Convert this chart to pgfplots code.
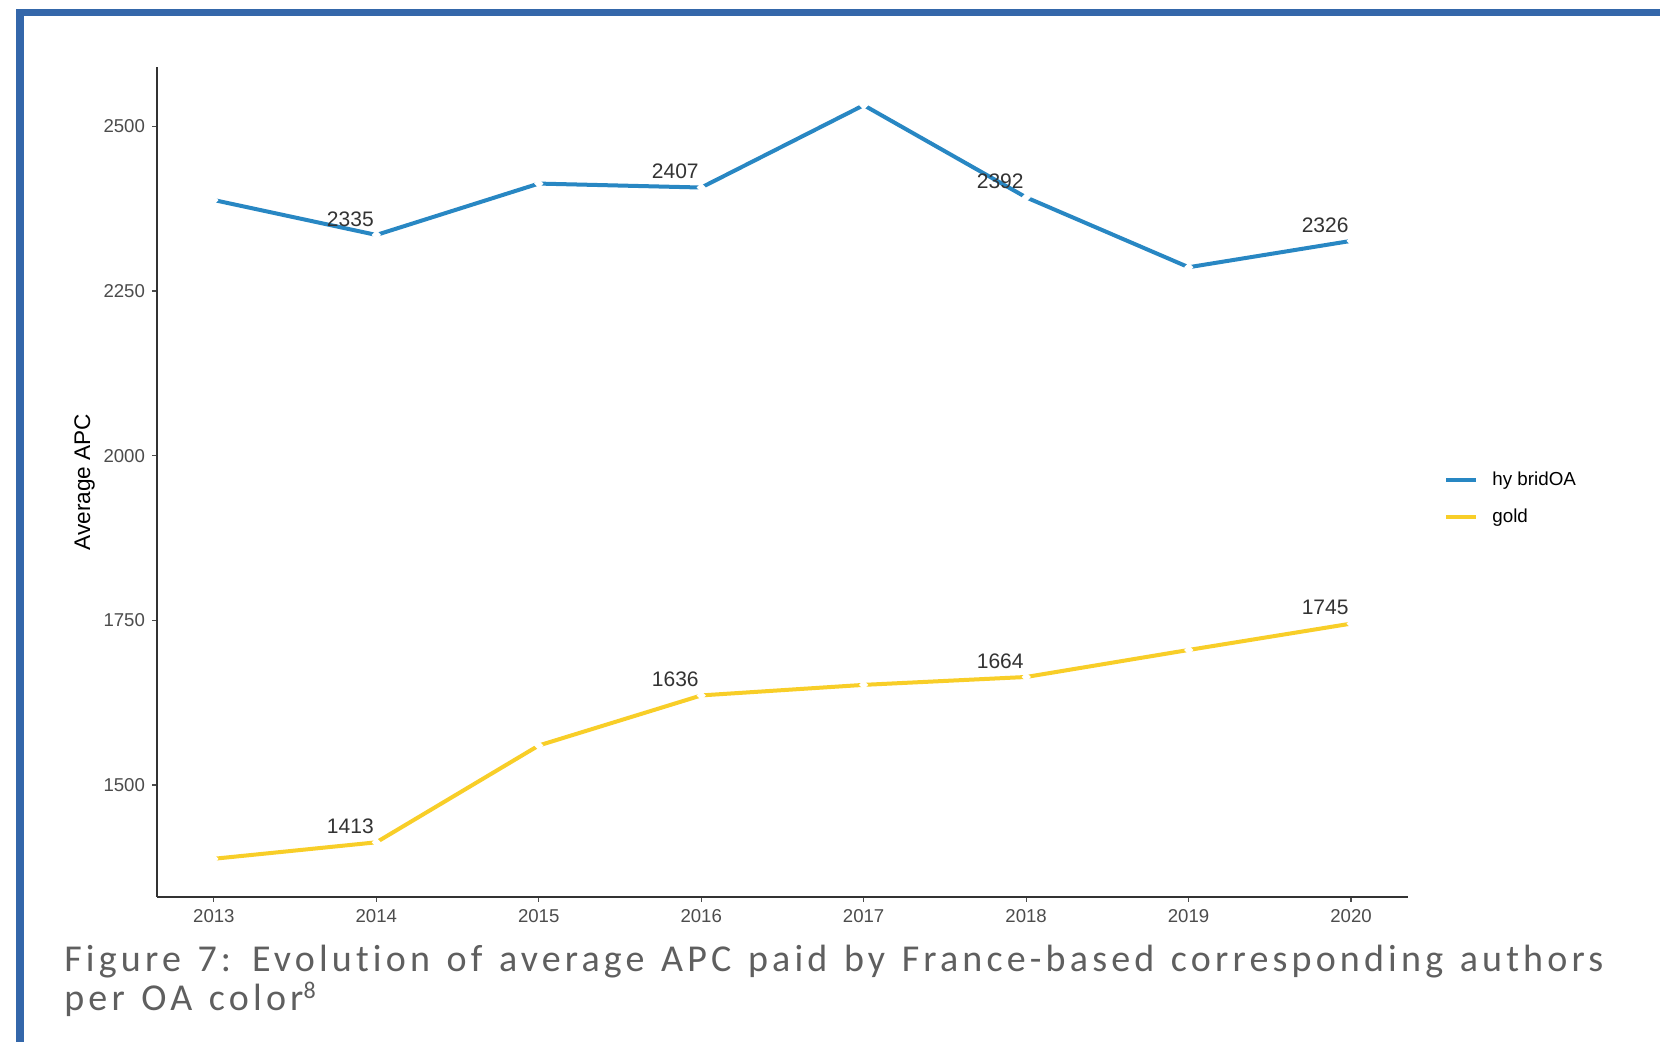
\documentclass[border=0pt]{standalone}
\usepackage{fontspec}
\setmainfont{Liberation Sans}
\newfontfamily\capfont[LetterSpace=11, WordSpace=1.3, Ligatures=NoCommon]{Carlito}
\usepackage{pgfplots}
\pgfplotsset{compat=1.18}
\definecolor{hyb}{RGB}{40,135,195}
\definecolor{gld}{RGB}{248,206,40}
\definecolor{frame}{RGB}{52,103,170}
\definecolor{capgray}{RGB}{95,95,95}
\begin{document}
\begin{tikzpicture}
\useasboundingbox (0,0) rectangle (830pt,521pt);
\fill[white] (0,0) rectangle (830pt,521pt);
\draw[frame, line width=3.75pt, line join=miter] (10pt,-5pt) -- (10pt,514.75pt) -- (840pt,514.75pt);
\begin{axis}[
  at={(78.5pt,72.5pt)}, anchor=south west,
  scale only axis, width=625.5pt, height=415pt,
  xmin=2012.65, xmax=2020.35, ymin=1330, ymax=2590,
  axis lines*=left,
  axis line style={black!80, line width=0.9pt},
  xtick={2013,...,2020}, ytick={1500,1750,2000,2250,2500},
  tick align=outside, major tick length=2.5pt,
  tick style={black!70, line width=0.6pt},
  /pgf/number format/assume math mode=true,
  /pgf/number format/1000 sep={},
  ticklabel style={font=\fontsize{9.3}{10}\selectfont, text=black!70},
  legend style={at={(axis description cs:1,0.48)}, anchor=west, xshift=18pt,
    draw=none, fill=none, font=\fontsize{9.4}{10}\selectfont, row sep=6.5pt, inner sep=0pt,
    /tikz/every odd column/.append style={column sep=5pt}},
  legend cell align=left,
  legend image code/.code={\draw[#1, line width=2pt] (0,0) -- (15pt,0);},
]
\addplot[hyb, line width=2pt, mark=*, mark size=0.9pt, mark options={color=white}]
  coordinates {(2013,2388) (2014,2335) (2015,2413) (2016,2407) (2017,2532) (2018,2392) (2019,2286) (2020,2326)};
\addlegendentry{hy bridOA}
\addplot[gld, line width=2pt, mark=*, mark size=0.9pt, mark options={color=white}]
  coordinates {(2013,1388) (2014,1413) (2015,1560) (2016,1636) (2017,1652) (2018,1664) (2019,1705) (2020,1745)};
\addlegendentry{gold}
\addplot[draw=none, mark=none, forget plot, nodes near coords, point meta=explicit symbolic,
  every node near coord/.append style={anchor=center, xshift=-13pt, yshift=8pt,
    font=\fontsize{10.5}{12}\selectfont, text=black!80}]
  coordinates {(2014,2335) [2335] (2016,2407) [2407] (2018,2392) [2392] (2020,2326) [2326]
               (2014,1413) [1413] (2016,1636) [1636] (2018,1664) [1664] (2020,1745) [1745]};
\end{axis}
\node[rotate=90, font=\fontsize{11.3}{13}\selectfont] at (42.25pt,280pt) {Average APC};
\node[anchor=base west, inner sep=0pt, text=capgray, font=\capfont\fontsize{19}{22}\selectfont] at (32pt,35pt) {Figure 7: Evolution of average APC paid by France-based corresponding authors};
\node[anchor=base west, inner sep=0pt, text=capgray, font=\capfont\fontsize{19}{22}\selectfont] at (32pt,15.5pt) {per OA color\textsuperscript{\fontsize{12}{12}\selectfont 8}};
\end{tikzpicture}
\end{document}
